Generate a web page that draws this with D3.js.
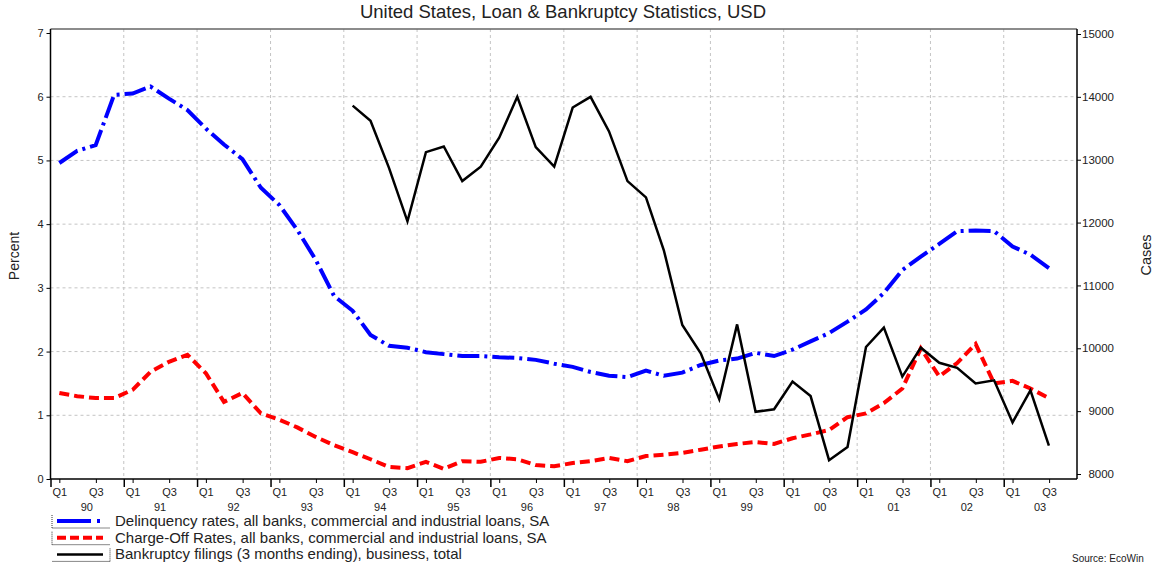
<!DOCTYPE html>
<html lang="en">
<head>
<meta charset="UTF-8">
<title>United States, Loan &amp; Bankruptcy Statistics, USD</title>
<script src="https://d3js.org/d3.v7.min.js"></script>
<style>
  body { margin: 0; background: #fff; }
  svg { font-family: "Liberation Sans", Arial, sans-serif; }
  svg text { fill: #222; }
</style>
</head>
<body>
<svg width="1156" height="564"></svg>
<script>
// quarterly values, 1990 Q1 .. 2003 Q3
const delinquency = [
  4.96, 5.15, 5.24, 6.03,
  6.05, 6.16, 5.97, 5.79,
  5.50, 5.25, 5.02, 4.57,
  4.30, 3.91, 3.44, 2.87,
  2.64, 2.26, 2.09, 2.06,
  1.99, 1.96, 1.93, 1.93,
  1.91, 1.90, 1.87, 1.81,
  1.76, 1.68, 1.62, 1.60,
  1.70, 1.62, 1.67, 1.79,
  1.86, 1.89, 1.98, 1.93,
  2.03, 2.16, 2.29, 2.47,
  2.66, 2.92, 3.28, 3.49,
  3.69, 3.89, 3.90, 3.89,
  3.65, 3.52, 3.31
];
const chargeOff = [
  1.35, 1.30, 1.27, 1.27,
  1.40, 1.68, 1.84, 1.95,
  1.66, 1.21, 1.35, 1.03,
  0.93, 0.81, 0.66, 0.53,
  0.42, 0.31, 0.19, 0.17,
  0.27, 0.16, 0.28, 0.27,
  0.33, 0.31, 0.22, 0.20,
  0.25, 0.28, 0.33, 0.28,
  0.36, 0.38, 0.41, 0.46,
  0.51, 0.55, 0.58, 0.55,
  0.64, 0.70, 0.77, 0.97,
  1.03, 1.19, 1.42, 2.05,
  1.61, 1.82, 2.12, 1.50,
  1.54, 1.42, 1.27
];
// quarterly, 1994 Q1 .. 2003 Q3
const bankruptcy = [
  13860, 13620, 12870, 12020,
  13120, 13210, 12660, 12890,
  13350, 14000, 13200, 12890,
  13830, 14000, 13450, 12660,
  12400, 11560, 10370, 9920,
  9190, 10380, 8990, 9030,
  9470, 9240, 8220, 8430,
  10020, 10330, 9550, 10010,
  9770, 9690, 9440, 9490,
  8820, 9330, 8450
];
const rateStartYear = 1990;
const bankruptcyStartYear = 1994;
const years = d3.range(1990, 2004);
const quarterLabels = ["Q1", "Q3"];
const percentTicks = [0, 1, 2, 3, 4, 5, 6, 7];
const casesTicks = [8000, 9000, 10000, 11000, 12000, 13000, 14000, 15000];
const seriesNames = [
  "Delinquency rates, all banks, commercial and industrial loans, SA",
  "Charge-Off Rates, all banks, commercial and industrial loans, SA",
  "Bankruptcy filings (3 months ending), business, total"
];

const svg = d3.select("svg");
const L = 50.5, R = 1077, T = 29, B = 479;

const x = d3.scaleTime()
  .domain([new Date(1990, 0, 1), new Date(2004, 0, 1)])
  .range([L, R]);
const yL = d3.scaleLinear().domain([0, 7]).range([B, 33]);
const yR = d3.scaleLinear().domain([8000, 15000]).range([474, 34]);

// middle of a quarter
const qDate = (start, i) => new Date(start + Math.floor(i / 4), (i % 4) * 3 + 1, 14);

// grid
const grid = svg.append("g").attr("stroke", "#c4c4c4").attr("stroke-dasharray", "3,3");
grid.selectAll("line.h").data(percentTicks.filter(d => d > 0 && d < 7)).enter()
  .append("line").attr("class", "h")
  .attr("x1", L).attr("x2", R)
  .attr("y1", d => yL(d)).attr("y2", d => yL(d));
grid.selectAll("line.v").data(years.slice(1)).enter()
  .append("line").attr("class", "v")
  .attr("x1", d => x(new Date(d, 0, 1))).attr("x2", d => x(new Date(d, 0, 1)))
  .attr("y1", T).attr("y2", B);

// frame
svg.append("line").attr("x1", L).attr("x2", R).attr("y1", T).attr("y2", T)
  .attr("stroke", "#666").attr("stroke-width", 1.5);

// left axis
const gl = svg.append("g").attr("transform", `translate(${L},0)`)
  .call(d3.axisLeft(yL).tickValues(percentTicks).tickSize(4).tickPadding(3).tickFormat(d3.format("d")));
gl.select(".domain").remove();
gl.append("line").attr("y1", T).attr("y2", B).attr("stroke", "#000").attr("stroke-width", 1.5);
gl.selectAll("text").attr("font-size", 11).attr("fill", "#222");

// right axis
const gr = svg.append("g").attr("transform", `translate(${R},0)`)
  .call(d3.axisRight(yR).tickValues(casesTicks).tickSize(4).tickPadding(2).tickFormat(d3.format("d")));
gr.select(".domain").remove();
gr.append("line").attr("y1", T).attr("y2", B).attr("stroke", "#000").attr("stroke-width", 1.5);
gr.selectAll("text").attr("font-size", 11.5).attr("fill", "#222")
  .attr("text-anchor", "end").attr("x", 37);

// bottom axis: year boundaries (long ticks)
const gy = svg.append("g").attr("transform", `translate(0,${B})`)
  .call(d3.axisBottom(x).tickValues(years.map(y => new Date(y, 0, 1))).tickSize(8).tickFormat(""));
gy.select(".domain").remove();
gy.selectAll("line").attr("stroke-width", 1.5);
svg.append("line").attr("x1", L).attr("x2", R).attr("y1", B).attr("y2", B)
  .attr("stroke", "#000").attr("stroke-width", 1.5);

// quarter ticks Q1 / Q3
const qTicks = [];
years.forEach(y => { qTicks.push(new Date(y, 1, 14)); qTicks.push(new Date(y, 7, 15)); });
const gq = svg.append("g").attr("transform", `translate(0,${B})`)
  .call(d3.axisBottom(x).tickValues(qTicks).tickSize(4).tickPadding(5)
    .tickFormat(d => quarterLabels[d.getMonth() < 6 ? 0 : 1]));
gq.select(".domain").remove();
gq.selectAll("text").attr("font-size", 11).attr("fill", "#222");

// year labels
svg.append("g").selectAll("text").data(years).enter().append("text")
  .attr("x", d => x(new Date(d, 6, 1)))
  .attr("y", 511)
  .attr("text-anchor", "middle")
  .attr("font-size", 11)
  .text(d => String(d).slice(2));

// series
const line = (start, scale) => d3.line()
  .x((d, i) => x(qDate(start, i)))
  .y(d => scale(d));

svg.append("path").datum(delinquency)
  .attr("d", line(rateStartYear, yL))
  .attr("fill", "none").attr("stroke", "#0000ff").attr("stroke-width", 4)
  .attr("stroke-dasharray", "22,5,3,5");
svg.append("path").datum(chargeOff)
  .attr("d", line(rateStartYear, yL))
  .attr("fill", "none").attr("stroke", "#ff0000").attr("stroke-width", 4)
  .attr("stroke-dasharray", "10,5");
svg.append("path").datum(bankruptcy)
  .attr("d", line(bankruptcyStartYear, yR))
  .attr("fill", "none").attr("stroke", "#000").attr("stroke-width", 2.5)
  .attr("stroke-linejoin", "miter");

// titles
svg.append("text").attr("x", 563).attr("y", 18).attr("text-anchor", "middle")
  .attr("font-size", 18.5).text("United States, Loan & Bankruptcy Statistics, USD");
svg.append("text").attr("transform", "translate(19,256) rotate(-90)")
  .attr("text-anchor", "middle").attr("font-size", 14).text("Percent");
svg.append("text").attr("transform", "translate(1151,255) rotate(-90)")
  .attr("text-anchor", "middle").attr("font-size", 14.5).text("Cases");
svg.append("text").attr("x", 1072).attr("y", 562).attr("font-size", 10).text("Source: EcoWin");

// legend
const legendStyles = [
  { color: "#0000ff", width: 4, dash: "34,6,3,60" },
  { color: "#ff0000", width: 4, dash: "9,4" },
  { color: "#000", width: 2.5, dash: null }
];
const lg = svg.append("g");
seriesNames.forEach((name, i) => {
  const cy = 521 + i * 16.7;
  const s = legendStyles[i];
  lg.append("line").attr("x1", 52).attr("x2", 110).attr("y1", cy + 7).attr("y2", cy + 7)
    .attr("stroke", "#888").attr("stroke-width", 1);
  const vx = i < 2 ? 52 : 110;
  lg.append("line").attr("x1", vx).attr("x2", vx).attr("y1", cy - 6).attr("y2", cy + 7)
    .attr("stroke", "#333").attr("stroke-width", 1).attr("stroke-dasharray", "1,1");
  lg.append("line").attr("x1", 57).attr("x2", 103).attr("y1", cy).attr("y2", cy)
    .attr("stroke", s.color).attr("stroke-width", s.width)
    .attr("stroke-dasharray", s.dash);
  lg.append("text").attr("x", 115).attr("y", cy + 5).attr("font-size", 15).text(name);
});
</script>
</body>
</html>
